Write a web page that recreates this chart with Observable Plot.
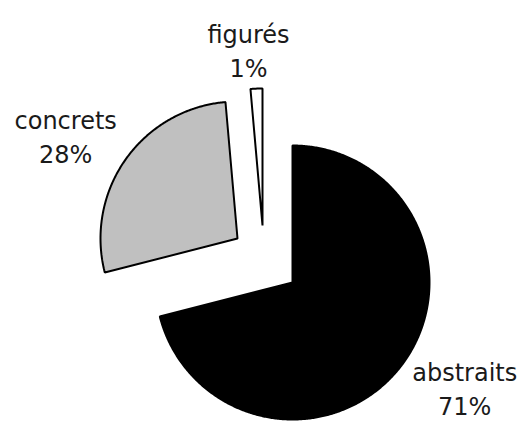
<!DOCTYPE html>
<html>
<head>
<meta charset="utf-8">
<script src="https://cdn.jsdelivr.net/npm/d3@7"></script>
<script src="https://cdn.jsdelivr.net/npm/@observablehq/plot@0.6"></script>
<style>
  html, body { margin: 0; padding: 0; background: #fff; }
  #chart svg { display: block; }
</style>
</head>
<body>
<div id="chart"></div>
<script>
// ---- data ----
const names = ["abstraits", "concrets", "figurés"];
const values = [71, 27.6, 1.4];
const pctLabels = ["71%", "28%", "1%"];
const fills = ["#000000", "#c0c0c0", "#ffffff"];

// ---- layout (pixels) ----
const W = 522, H = 423, R = 137;
const cx = 292, cy = 282;
const explode = { "abstraits": [0, 0], "concrets": [-55, -44], "figurés": [-30, -57] };
const labelShift = { "abstraits": [64, 21], "concrets": [-60, -24], "figurés": [-8, -40] };

const total = d3.sum(values);
let acc = 0;
const slices = names.map((name, i) => {
  const a0 = acc / total * 2 * Math.PI;
  acc += values[i];
  const a1 = acc / total * 2 * Math.PI;
  const [ox, oy] = explode[name];
  return { name, value: values[i], pct: pctLabels[i], a0, a1, mid: (a0 + a1) / 2, ox: ox / R, oy: -oy / R };
});

// polygon points for each slice (unit radius, y up)
const pts = [];
for (const s of slices) {
  pts.push({ name: s.name, x: s.ox, y: s.oy });
  const n = Math.max(2, Math.ceil((s.a1 - s.a0) / (Math.PI / 360)));
  for (let k = 0; k <= n; k++) {
    const a = s.a0 + (s.a1 - s.a0) * k / n;
    pts.push({ name: s.name, x: s.ox + Math.sin(a), y: s.oy + Math.cos(a) });
  }
}

const labels = slices.map(s => {
  const [dx, dy] = labelShift[s.name];
  return {
    name: s.name,
    x: s.ox + Math.sin(s.mid) + dx / R,
    y: s.oy + Math.cos(s.mid) - dy / R,
    text: s.name + "\n" + s.pct
  };
});

const chart = Plot.plot({
  width: W,
  height: H,
  margin: 0,
  x: { domain: [(0 - cx) / R, (W - cx) / R], axis: null },
  y: { domain: [(cy - H) / R, cy / R], axis: null },
  color: { domain: names, range: fills },
  style: { background: "#fff" },
  marks: [
    Plot.line(pts, {
      x: "x", y: "y", z: "name", fill: "name",
      stroke: "#000", strokeWidth: 2, strokeLinejoin: "miter",
      curve: "linear-closed"
    }),
    Plot.text(labels, {
      x: "x", y: "y", text: "text",
      fontSize: 24, fontFamily: "DejaVu Sans", fill: "#1a1a1a",
      textAnchor: "middle", lineAnchor: "middle", lineHeight: 1.42
    })
  ]
});
document.getElementById("chart").appendChild(chart);
</script>
</body>
</html>
